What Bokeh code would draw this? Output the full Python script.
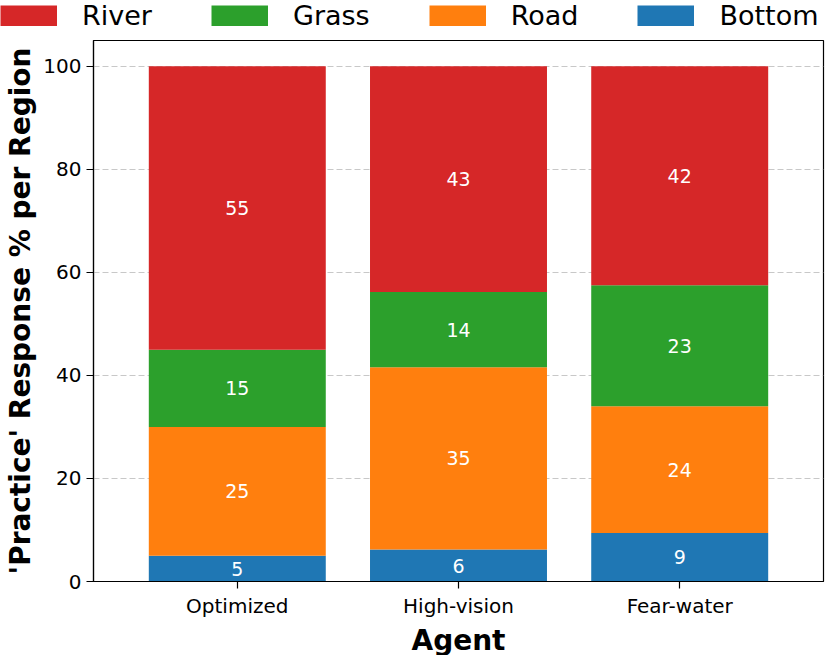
from bokeh.plotting import figure
from bokeh.models import ColumnDataSource, FactorRange, Range1d, Legend, LegendItem, FixedTicker
from bokeh.core.properties import value
from bokeh.embed import file_html
from bokeh.resources import INLINE

agents = ["Optimized", "High-vision", "Fear-water"]
regions = ["Bottom", "Road", "Grass", "River"]
bottom = [5.0, 6.2, 9.4]
road = [25.0, 35.4, 24.6]
grass = [15.0, 14.6, 23.5]
river = [55.0, 43.8, 42.5]
y_ticks = [0, 20, 40, 60, 80, 100]
legend_order = ["River", "Grass", "Road", "Bottom"]
colors = {"Bottom": "#1f77b4", "Road": "#ff7f0e", "Grass": "#2ca02c", "River": "#d62728"}

FONT = "DejaVu Sans"
TOTAL_W = 830
LEG_H = 32
FRAME_W = 730
FRAME_H = 541

data = {"agent": agents, "Bottom": bottom, "Road": road, "Grass": grass, "River": river}
source = ColumnDataSource(data)

p = figure(
    x_range=FactorRange(*agents, range_padding=0.1),
    y_range=Range1d(0, 105),
    frame_width=FRAME_W, frame_height=FRAME_H,
    output_backend="svg", toolbar_location=None,
    min_border_left=93, min_border_right=7, min_border_top=8, min_border_bottom=0,
)

renderers = p.vbar_stack(regions, x="agent", width=0.8, source=source,
                         color=[colors[r] for r in regions], line_color=None)

# segment labels
lx, ly, lt = [], [], []
series = {"Bottom": bottom, "Road": road, "Grass": grass, "River": river}
for i, a in enumerate(agents):
    base = 0.0
    for r in regions:
        v = series[r][i]
        lx.append(a)
        ly.append(base + v / 2)
        lt.append(str(int(v)))
        base += v
p.text(x=lx, y=ly, text=lt, text_color="white", text_font=value(FONT),
       text_font_size="19px", text_align="center", text_baseline="middle")

# axes
p.yaxis.ticker = FixedTicker(ticks=y_ticks)
p.yaxis.axis_label = "'Practice' Response % per Region"
p.xaxis.axis_label = "Agent"
for ax in (p.xaxis, p.yaxis):
    ax.axis_label_text_font = FONT
    ax.axis_label_text_font_size = "28px"
    ax.axis_label_text_font_style = "bold"
    ax.axis_label_text_color = "black"
    ax.major_label_text_font = FONT
    ax.major_label_text_font_size = "20px"
    ax.major_label_text_color = "black"
    ax.major_tick_out = 7
    ax.major_tick_in = 0
    ax.minor_tick_out = 0
    ax.minor_tick_in = 0
    ax.major_tick_line_color = "black"
    ax.major_tick_line_width = 1.2
    ax.axis_line_color = "black"
    ax.axis_line_width = 1.2
    ax.major_label_standoff = 5
    ax.axis_label_standoff = 3

p.xgrid.grid_line_color = None
p.ygrid.grid_line_color = "#c8c8c8"
p.ygrid.grid_line_dash = "6 3"
p.ygrid.grid_line_width = 1

p.outline_line_color = "black"
p.outline_line_width = 1.2
p.outline_line_alpha = 1

# legend strip on top (separate root, so its frame is not aligned to the plot's)
leg = figure(width=TOTAL_W, height=LEG_H, x_range=Range1d(0, 1), y_range=Range1d(0, 1),
             output_backend="svg", toolbar_location=None,
             x_axis_location=None, y_axis_location=None,
             min_border_left=0, min_border_right=0,
             min_border_top=0, min_border_bottom=0)
leg.outline_line_color = None
leg.xgrid.visible = False
leg.ygrid.visible = False
leg.background_fill_alpha = 0
leg.border_fill_alpha = 0
dummy = {}
for r in legend_order:
    # one-point proxy line (draws nothing), only used for the legend swatch
    dummy[r] = leg.line(x=[0], y=[0], line_width=21, line_cap="butt", color=colors[r])
items = [LegendItem(label=r, renderers=[dummy[r]]) for r in legend_order]
legend = Legend(items=items, orientation="horizontal", location="top_left",
                glyph_width=57, glyph_height=21, label_standoff=25, spacing=59,
                label_height=21,
                label_text_font=FONT, label_text_font_size="27px",
                label_text_color="black", label_text_baseline="middle",
                padding=0, margin=0, border_line_color=None,
                background_fill_alpha=0)
leg.add_layout(legend, "center")

open("out.html", "w").write(file_html([leg, p], INLINE))
